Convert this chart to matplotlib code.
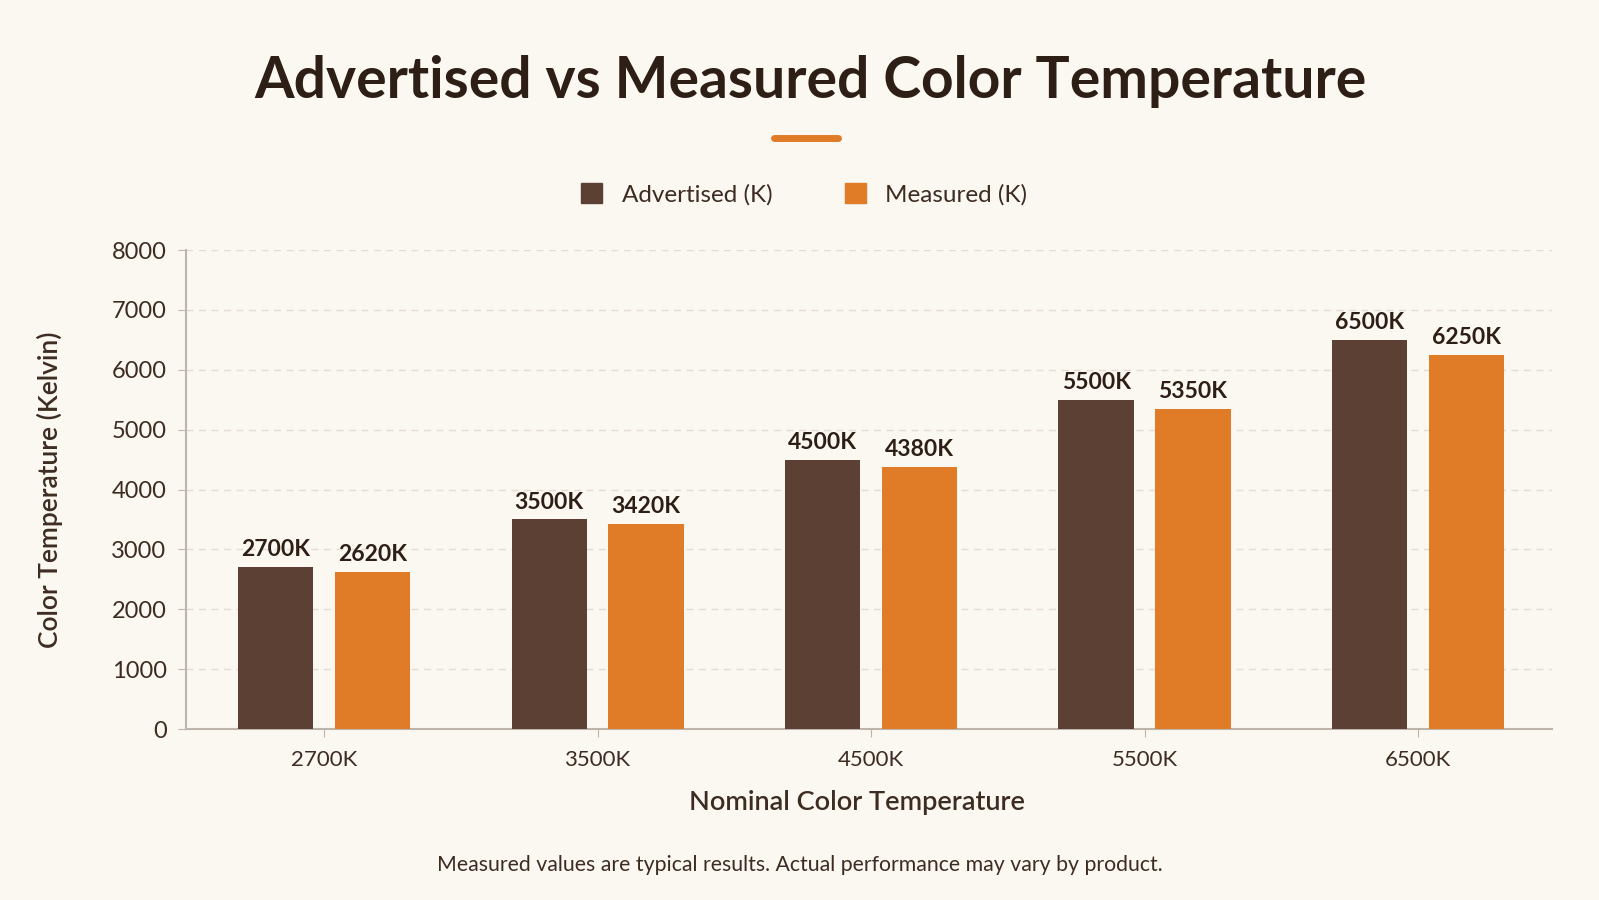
import numpy as np
import matplotlib.pyplot as plt
from matplotlib.lines import Line2D
from matplotlib.patches import Patch

# data
categories = ['2700K', '3500K', '4500K', '5500K', '6500K']
advertised = [2700, 3500, 4500, 5500, 6500]
measured = [2620, 3420, 4380, 5350, 6250]
y_ticks = [0, 1000, 2000, 3000, 4000, 5000, 6000, 7000, 8000]

bg = '#FBF7F1'
brown = '#5C4033'
orange = '#E07B28'
text_dark = '#2E1F16'
text_mid = '#3D2C22'

plt.rcParams['font.family'] = ['Lato', 'DejaVu Sans']

fig = plt.figure(figsize=(15.99, 9), dpi=100, facecolor=bg)
ax = fig.add_axes([0.1163, 0.19, 0.8543, 0.5322], facecolor=bg)

x = np.arange(len(categories))
w = 0.275
b1 = ax.bar(x - 0.177, advertised, w, color=brown, zorder=3)
b2 = ax.bar(x + 0.177, measured, w, color=orange, zorder=3)

for bars, vals in ((b1, advertised), (b2, measured)):
	for rect, v in zip(bars, vals):
		ax.annotate(f'{v}K', (rect.get_x() + rect.get_width() / 2, v),
			xytext=(0, 5), textcoords='offset points', ha='center', va='bottom',
			fontsize=16.5, fontweight='bold', color=text_dark)

ax.set_xlim(-0.505, 4.49)
ax.set_ylim(0, 8000)
ax.set_yticks(y_ticks)
ax.set_xticks(x)
ax.set_xticklabels(categories)
ax.tick_params(axis='x', length=6, color='#BDB5AC', labelsize=16, labelcolor=text_mid, pad=9)
ax.tick_params(axis='y', length=6, color='#BDB5AC', labelsize=17, labelcolor=text_mid, pad=8)

ax.grid(axis='y', color='#E4DCD2', linestyle=(0, (5, 4)), linewidth=1, zorder=0)
for s in ('top', 'right'):
	ax.spines[s].set_visible(False)
for s in ('left', 'bottom'):
	ax.spines[s].set_color('#BDB5AC')
	ax.spines[s].set_linewidth(1.5)

ax.set_ylabel('Color Temperature (Kelvin)', fontsize=19, fontweight='semibold',
	color=text_mid, labelpad=35)
ax.set_xlabel('Nominal Color Temperature', fontsize=19.5, fontweight='semibold',
	color=text_mid)
ax.xaxis.set_label_coords(0.491, -0.127)

fig.text(0.507, 0.91, 'Advertised vs Measured Color Temperature', ha='center', va='center',
	fontsize=41, fontweight='bold', color=text_dark)
fig.add_artist(Line2D([0.484, 0.524], [0.847, 0.847], color=orange, linewidth=5,
	solid_capstyle='round'))

handles = [Patch(color=brown, label='Advertised (K)'), Patch(color=orange, label='Measured (K)')]
leg = fig.legend(handles=handles, loc='center', bbox_to_anchor=(0.503, 0.784), ncol=2,
	frameon=False, fontsize=17.5, handlelength=0.85, handleheight=0.85,
	columnspacing=3.0, handletextpad=0.8)
for t in leg.get_texts():
	t.set_color(text_mid)

fig.text(0.5, 0.039, 'Measured values are typical results. Actual performance may vary by product.',
	ha='center', va='center', fontsize=15.3, color=text_mid)

fig.savefig('out.png', dpi=100, facecolor=bg)
